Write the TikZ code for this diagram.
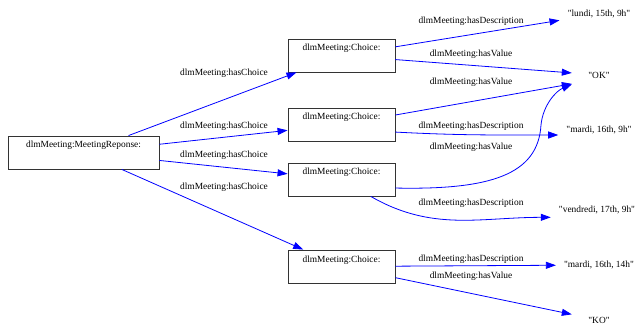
\documentclass[tikz,border=0pt]{standalone}
\usepackage{fontspec}
\setmainfont{Liberation Serif}
\usepackage{xcolor}
\usepackage{tikz}
\usetikzlibrary{positioning, arrows.meta}
\definecolor{rdfblue}{HTML}{0000FF}
\definecolor{rdfgray}{HTML}{333333}
\newcommand{\lit}[1]{\textquotedbl#1\textquotedbl}

\begin{document}
\begin{tikzpicture}[x=1pt, y=1pt, font=\fontsize{9.4}{11}\selectfont]

% Node and edge styles
\tikzset{
  resource/.style={draw=rdfgray, line width=0.9pt, minimum width=107pt, minimum height=33pt,
                   text height=8pt, text depth=17pt, inner sep=4pt},
  literal/.style={minimum width=54pt, minimum height=36pt, inner xsep=8pt, inner ysep=4pt},
  prop/.style={rdfblue, line width=0.8pt, -{Triangle[length=10pt, width=7pt]}},
  lbl/.style={inner sep=1pt}
}

\useasboundingbox (0,0) rectangle (635,-326);

% Resources
\node[resource, minimum width=151pt] (response) at (83.5,-152.5) {dlmMeeting:MeetingReponse:};
\node[resource] (choice1) at (341.5,-55.5) {dlmMeeting:Choice:};
\node[resource] (choice2) at (341.5,-124.5) {dlmMeeting:Choice:};
\node[resource] (choice3) at (341.5,-179.5) {dlmMeeting:Choice:};
\node[resource] (choice4) at (341.5,-266.5) {dlmMeeting:Choice:};

% Literals
\node[literal] (lundi) at (599,-14) {\lit{lundi, 15th, 9h}};
\node[literal] (ok) at (599,-75) {\lit{OK}};
\node[literal] (mardiA) at (599,-130) {\lit{mardi, 16th, 9h}};
\node[literal] (vendredi) at (597,-210) {\lit{vendredi, 17th, 9h}};
\node[literal] (mardiB) at (599,-265) {\lit{mardi, 16th, 14h}};
\node[literal] (ko) at (599,-320) {\lit{KO}};

% hasChoice edges
\foreach \c in {1,...,4} {
    \draw[prop] (response) -- (choice\c);
}

% hasValue / hasDescription edges
\draw[prop] (choice1) -- (lundi);
\draw[prop] (choice1) -- (ok);
\draw[prop] (choice2) -- (ok.198);
\draw[prop] (choice2.-8) to[out=-3, in=180] (mardiA.187);
\draw[prop] (choice3.-9) .. controls (490,-190) and (538,-175) .. (541,-125)
                         .. controls (543,-105) and (556,-91) .. (ok.199);
\draw[prop] (choice3) to[out=-30, in=180] (vendredi.189);
\draw[prop] (choice4) -- (mardiB);
\draw[prop] (choice4) -- (ko);

% Edge labels
\foreach \y [count=\i] in {73,126,155,187} {
    \node[lbl] (choicelbl\i) at (224,-\y) {dlmMeeting:hasChoice};
}
\foreach \name/\y/\txt in {desc1/21/hasDescription, val1/54/hasValue, val2/82/hasValue,
                           desc2/126/hasDescription, val3/147/hasValue, desc3/203/hasDescription,
                           desc4/259/hasDescription, val4/276/hasValue} {
    \node[lbl] (\name) at (471,-\y) {dlmMeeting:\txt};
}

\end{tikzpicture}
\end{document}
